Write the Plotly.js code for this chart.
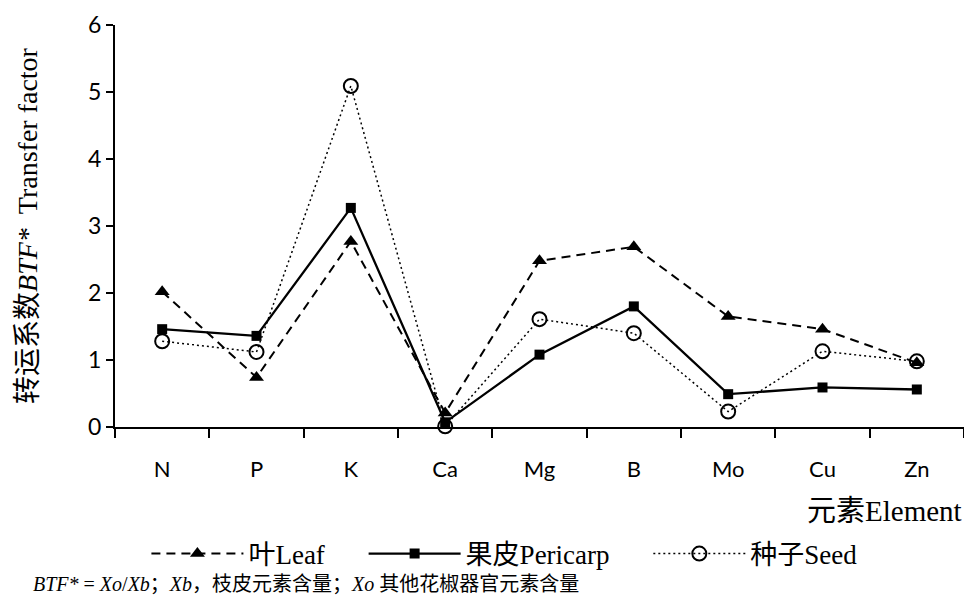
<!DOCTYPE html>
<html>
<head>
<meta charset="utf-8">
<script src="https://cdn.plot.ly/plotly-3.0.1.min.js"></script>
<style>html,body{margin:0;padding:0;background:#fff;}#chart{width:964px;height:598px;}</style>
</head>
<body>
<div id="chart"></div>
<script>
const elements = ["N", "P", "K", "Ca", "Mg", "B", "Mo", "Cu", "Zn"];
const leaf = [2.02, 0.74, 2.77, 0.21, 2.48, 2.69, 1.65, 1.46, 0.96];
const pericarp = [1.46, 1.36, 3.27, 0.07, 1.08, 1.80, 0.49, 0.59, 0.56];
const seed = [1.28, 1.12, 5.09, 0.01, 1.61, 1.40, 0.23, 1.13, 0.98];
const seriesNames = ["叶Leaf", "果皮Pericarp", "种子Seed"];
const yTicks = [0, 1, 2, 3, 4, 5, 6];

const serif = "Liberation Serif, Noto Sans CJK SC, serif";
const sans = "Lato, Liberation Sans, sans-serif";
const pad = "&nbsp;&nbsp;&nbsp;&nbsp;&nbsp;";

const traces = [
  {x: elements, y: leaf, name: seriesNames[0] + pad, type: "scatter", mode: "lines+markers",
   line: {color: "#000", width: 2, dash: "9px,6px"},
   marker: {symbol: "triangle-up", size: 13, color: "#000"}, cliponaxis: false},
  {x: elements, y: pericarp, name: seriesNames[1] + pad, type: "scatter", mode: "lines+markers",
   line: {color: "#000", width: 2.3},
   marker: {symbol: "square", size: 10, color: "#000"}, cliponaxis: false},
  {x: elements, y: seed, name: seriesNames[2], type: "scatter", mode: "lines+markers",
   line: {color: "#000", width: 1.5, dash: "2px,3px"},
   marker: {symbol: "circle-open", size: 14, color: "#000", line: {width: 2, color: "#000"}}, cliponaxis: false}
];

const layout = {
  width: 964, height: 598,
  margin: {l: 115, r: 0, t: 25, b: 171},
  paper_bgcolor: "#fff", plot_bgcolor: "#fff",
  showlegend: true,
  legend: {orientation: "h", x: 0.037, xanchor: "left", y: -0.255, yanchor: "top",
           font: {family: serif, size: 27, color: "#000"}, itemwidth: 92, traceorder: "normal"},
  xaxis: {
    type: "category", range: [-0.5, 8.5], tickson: "boundaries",
    showline: true, linecolor: "#000", linewidth: 2,
    ticks: "outside", ticklen: 9, tickwidth: 2, tickcolor: "#000",
    showgrid: false, zeroline: false,
    tickfont: {family: sans, size: 22, color: "#000"}, ticklabelstandoff: 22
  },
  yaxis: {
    range: [0, 6], tickvals: yTicks, ticktext: yTicks.map(String),
    showline: true, linecolor: "#000", linewidth: 2,
    ticks: "outside", ticklen: 7, tickwidth: 2, tickcolor: "#000",
    showgrid: false, zeroline: false,
    tickfont: {family: sans, size: 23, color: "#000"},
    title: {text: "转运系数<i>BTF*</i>&nbsp;&nbsp;Transfer factor", font: {family: serif, size: 28, color: "#000"}, standoff: 42}
  },
  annotations: [
    {text: "元素Element", xref: "paper", yref: "paper", x: 1, y: -0.21, xanchor: "right", yanchor: "middle",
     showarrow: false, font: {family: serif, size: 29, color: "#000"}},
    {text: "<i>BTF*</i> = <i>Xo</i>/<i>Xb</i>；<i>Xb</i>，枝皮元素含量；<i>Xo</i> 其他花椒器官元素含量",
     xref: "paper", yref: "paper", x: -0.099, y: -0.39, xanchor: "left", yanchor: "middle",
     showarrow: false, font: {family: serif, size: 20, color: "#000"}}
  ]
};

Plotly.newPlot("chart", traces, layout, {displayModeBar: false, staticPlot: true});
</script>
</body>
</html>
